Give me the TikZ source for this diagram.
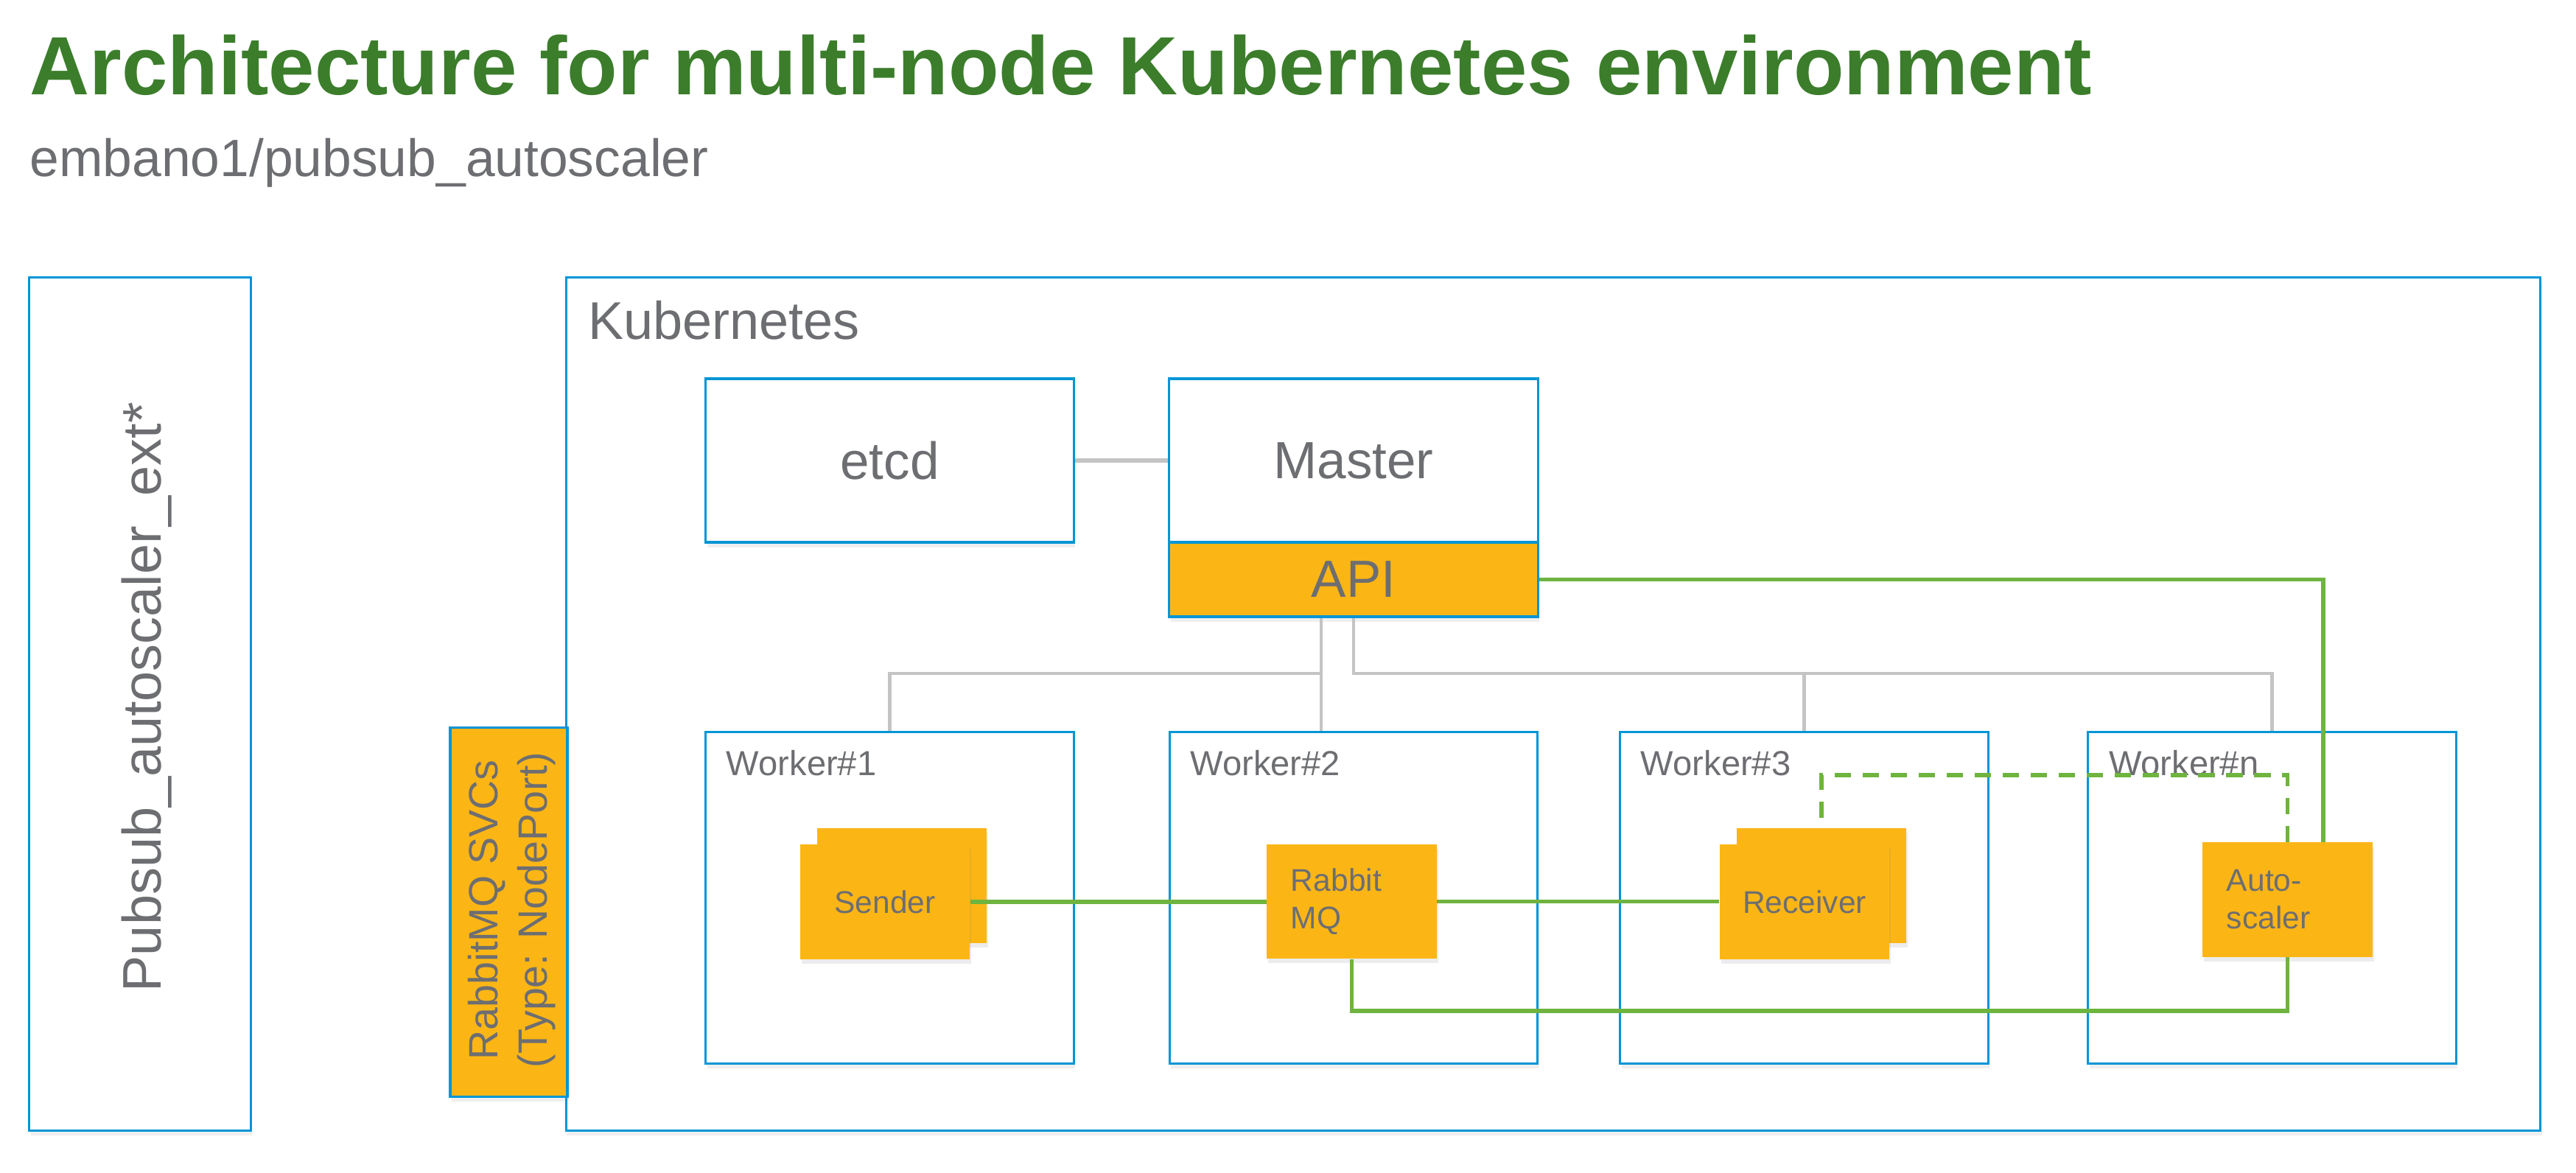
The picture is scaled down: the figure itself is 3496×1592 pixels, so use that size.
\documentclass[tikz,border=0pt]{standalone}
\usepackage{fontspec}
\setmainfont{Liberation Sans}
\usetikzlibrary{calc,shadows}
\definecolor{kblue}{HTML}{0095D6}
\definecolor{korange}{HTML}{FBB616}
\definecolor{kgreen}{HTML}{6EB43F}
\definecolor{ktitle}{HTML}{3B7D2B}
\definecolor{kgray}{HTML}{6D6E71}
\definecolor{klink}{HTML}{C4C4C4}
\tikzset{
	frame/.style={draw=kblue, line width=0.9pt, fill=white, inner sep=0pt, text=kgray,
		drop shadow={shadow xshift=0.02cm, shadow yshift=-0.07cm, opacity=0.12}},
	pod/.style={fill=korange, inner sep=0pt, text=kgray, minimum width=2.30cm, minimum height=1.55cm,
		font=\fontsize{12.1}{14.5}\selectfont,
		drop shadow={shadow xshift=0.02cm, shadow yshift=-0.06cm, opacity=0.15}},
	lbl/.style={inner sep=0pt, text=kgray},
	wire/.style={draw=kgreen, line width=1.6pt},
	bus/.style={draw=klink, line width=1.2pt},
}

\begin{document}
\begin{tikzpicture}[x=0.01cm, y=-0.01cm]
			%%%%% START %%%%%
			\useasboundingbox[fill=white] (0,0) rectangle (3496,1592);
			
			\node[lbl, anchor=base west, text=ktitle, font=\bfseries\fontsize{31.9}{38}\selectfont] (title) at (40,129) {Architecture for multi-node Kubernetes environment};
			\node[lbl, anchor=base west, font=\fontsize{20.3}{24}\selectfont] (subtitle) at (40,240) {embano1/pubsub\_autoscaler};
			
			\node[frame, minimum width=3cm, minimum height=11.57cm] (ext) at (190,955.5) {};
			\node[lbl, rotate=90, font=\fontsize{21}{25}\selectfont] (extlabel) at (199,946) {Pubsub\_autoscaler\_ext*};
			
			\node[frame, minimum width=26.78cm, minimum height=11.57cm] (kube) at (2108,955.5) {};
			\node[lbl, anchor=base west, font=\fontsize{20.5}{24}\selectfont] (kubelabel) at ($(kube.north west)+(31,85)$) {Kubernetes};
			
			\node[frame, fill=korange, minimum width=1.59cm, minimum height=5cm] (svc) at (690.5,1238) {};
			\node[lbl, rotate=90, align=center, font=\fontsize{15.8}{19}\selectfont] (svclabel) at ($(svc.center)+(4,-3)$) {RabbitMQ SVCs\\(Type: NodePort)};
			
			\node[frame, minimum width=4.99cm, minimum height=2.22cm, font=\fontsize{20.2}{24}\selectfont] (etcd) at (1207.5,625) {etcd};
			\node[frame, minimum width=5cm, minimum height=2.22cm, font=\fontsize{20.2}{24}\selectfont] (master) at (1837,625) {Master};
			\node[frame, fill=korange, minimum width=5cm, minimum height=1.01cm, font=\fontsize{20.2}{24}\selectfont] (api) at (1837,786.5) {API};
			
			\foreach \x/\n/\name in {1207.5/1/w1, 1837/2/w2, 2448.5/3/w3, 3083.5/n/wn}{
				\node[frame, minimum width=4.99cm, minimum height=4.49cm] (\name) at (\x,1218.5) {};
				\node[lbl, anchor=base west, font=\fontsize{13.4}{16}\selectfont] (\name title) at ($(\name.north west)+(29,60)$) {Worker\#\n};
			}
			
			\node[pod] (senderback) at (1224,1202) {};
			\node[pod] (sender) at (1201,1224) {Sender};
			\node[pod, align=left, text width=1.65cm] (rabbit) at (1834.5,1223.5) {Rabbit\\MQ};
			\node[pod] (receiverback) at (2472,1202) {};
			\node[pod] (receiver) at (2449,1224) {Receiver};
			\node[pod, align=left, text width=1.65cm] (auto) at (3104.5,1221) {Auto-\\scaler};
			
			% grey links
			\draw[klink, line width=1.5pt] (etcd.east) -- (etcd.east -| master.west);
			\coordinate (bus) at (0,914);
			\coordinate (busl) at ($(api.south)+(-44,0)$);
			\draw[bus] (busl) -- (busl |- w2.north);
			\draw[bus] (busl |- bus) -| (w1.north);
			\draw[bus] (api.south) -- (api.south |- bus) -| (wn.north);
			\draw[bus] (w3.north) -- (w3.north |- bus);
			
			% green links
			\draw[wire] (sender.east) -- (sender.east -| rabbit.west);
			\draw[wire] (rabbit.east) -- (rabbit.east -| receiver.west);
			\draw[wire] (rabbit.south) -- ++(0,70) -| (auto.south);
			\coordinate (autoin) at ($(auto.north)+(48.5,0)$);
			\draw[wire] (api.east) -| (autoin);
			\draw[wire, dash pattern=on 6.3pt off 4.5pt] (auto.north) |- ($(receiverback.north)+(0,-72)$) -- (receiverback.north);
			
			%%%%% END %%%%%
\end{tikzpicture}
\end{document}
